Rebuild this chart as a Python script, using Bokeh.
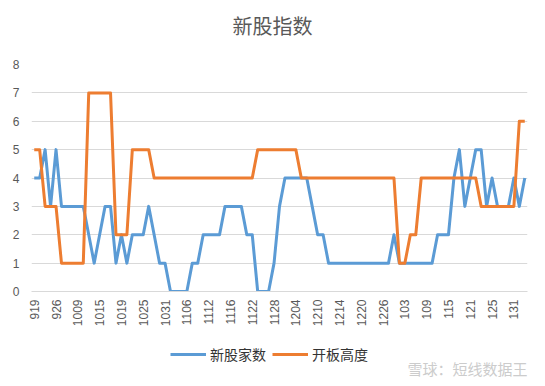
from bokeh.plotting import figure
from bokeh.layouts import column
from bokeh.models import Legend, LegendItem, FixedTicker, Range1d, Label
from bokeh.embed import file_html
from bokeh.resources import INLINE

# ---- data ----
tick_labels = ["919", "926", "1009", "1015", "1019", "1025", "1031", "1106", "1112",
               "1116", "1122", "1128", "1204", "1210", "1214", "1220", "1226",
               "103", "109", "115", "121", "125", "131"]
label_step = 4

new_stock_count = [4, 4, 5, 3, 5, 3, 3, 3, 3, 3, 2, 1, 2, 3, 3, 1, 2, 1, 2, 2,
                   2, 3, 2, 1, 1, 0, 0, 0, 0, 1, 1, 2, 2, 2, 2, 3, 3, 3, 3, 2,
                   2, 0, 0, 0, 1, 3, 4, 4, 4, 4, 4, 3, 2, 2, 1, 1, 1, 1, 1, 1,
                   1, 1, 1, 1, 1, 1, 2, 1, 1, 1, 1, 1, 1, 1, 2, 2, 2, 4, 5, 3,
                   4, 5, 5, 3, 4, 3, 3, 3, 4, 3, 4]
open_board_height = [5, 5, 3, 3, 3, 1, 1, 1, 1, 1, 7, 7, 7, 7, 7, 2, 2, 2, 5, 5,
                     5, 5, 4, 4, 4, 4, 4, 4, 4, 4, 4, 4, 4, 4, 4, 4, 4, 4, 4, 4,
                     4, 5, 5, 5, 5, 5, 5, 5, 5, 4, 4, 4, 4, 4, 4, 4, 4, 4, 4, 4,
                     4, 4, 4, 4, 4, 4, 4, 1, 1, 2, 2, 4, 4, 4, 4, 4, 4, 4, 4, 4,
                     4, 4, 3, 3, 3, 3, 3, 3, 3, 6, 6]
series_names = ["新股家数", "开板高度"]
series_colors = ["#5B9BD5", "#ED7D31"]
title_text = "新股指数"
watermark_text = "雪球：短线数据王"

n = len(new_stock_count)
xs = list(range(n))
tick_pos = [i * label_step for i in range(len(tick_labels))]


def strip(height):
    f = figure(width=545, height=height, output_backend="svg", toolbar_location=None,
               x_range=Range1d(0, 1), y_range=Range1d(0, 1),
               min_border_left=0, min_border_right=0, min_border_top=0,
               min_border_bottom=0)
    f.axis.visible = False
    f.grid.grid_line_color = None
    f.outline_line_color = None
    f.border_fill_color = "white"
    return f


# ---- title strip ----
p0 = strip(48)
p0.add_layout(Label(x=241, y=23, x_units="screen", y_units="screen",
                    text=title_text, text_font="Noto Sans CJK SC",
                    text_font_size="20px", text_color="#595959",
                    text_align="center", text_baseline="middle"))

# ---- main chart ----
p = figure(width=545, height=288, output_backend="svg", toolbar_location=None,
           x_range=Range1d(-0.5, n - 0.5), y_range=Range1d(0, 8),
           min_border_left=31, min_border_right=18, min_border_top=16,
           min_border_bottom=45)
p.outline_line_color = None
p.background_fill_color = "white"
p.border_fill_color = "white"

p.line(xs, new_stock_count, line_color=series_colors[0], line_width=3,
       line_join="round")
p.line(xs, open_board_height, line_color=series_colors[1], line_width=3,
       line_join="round")

p.xaxis.ticker = FixedTicker(ticks=tick_pos)
p.xaxis.major_label_overrides = {pos: lab for pos, lab in zip(tick_pos, tick_labels)}
p.xaxis.major_label_orientation = 1.5707963
p.xaxis.axis_line_color = "#d9d9d9"
p.xaxis.major_tick_line_color = None
p.xaxis.minor_tick_line_color = None
p.xaxis.major_tick_out = 0
p.xaxis.major_tick_in = 0
p.xaxis.major_label_standoff = 8
p.xaxis.major_label_text_font = "Liberation Sans"
p.xaxis.major_label_text_font_size = "12px"
p.xaxis.major_label_text_color = "#595959"

p.yaxis.ticker = FixedTicker(ticks=list(range(0, 9)))
p.yaxis.axis_line_color = None
p.yaxis.major_tick_line_color = None
p.yaxis.minor_tick_line_color = None
p.yaxis.major_tick_out = 0
p.yaxis.major_tick_in = 0
p.yaxis.major_label_standoff = 12
p.yaxis.major_label_text_font = "Liberation Sans"
p.yaxis.major_label_text_font_size = "12px"
p.yaxis.major_label_text_color = "#595959"

p.xgrid.grid_line_color = None
p.ygrid.grid_line_color = "#d9d9d9"
p.ygrid.grid_line_width = 1

# ---- legend strip (series drawn off-range so only legend swatches show) ----
p2 = strip(50)
p2.y_range = Range1d(100, 101)
lr1 = p2.line(xs, new_stock_count, line_color=series_colors[0], line_width=3)
lr2 = p2.line(xs, open_board_height, line_color=series_colors[1], line_width=3)

legend = Legend(items=[LegendItem(label=series_names[0], renderers=[lr1]),
                       LegendItem(label=series_names[1], renderers=[lr2])],
                orientation="horizontal", location=(139, 22),
                label_text_font="Noto Sans CJK SC", label_text_font_size="14px",
                label_text_color="#333333", glyph_width=36, glyph_height=16,
                label_standoff=4, spacing=6, border_line_color=None,
                background_fill_alpha=0, padding=0, margin=0)
p2.add_layout(legend, "center")

p2.add_layout(Label(x=376, y=18, x_units="screen", y_units="screen",
                    text=watermark_text, text_font="Noto Sans CJK SC",
                    text_font_size="15px", text_color="#cccccc",
                    text_baseline="middle"))

layout = column(p0, p, p2, spacing=0)
open("out.html", "w").write(file_html(layout, INLINE))
